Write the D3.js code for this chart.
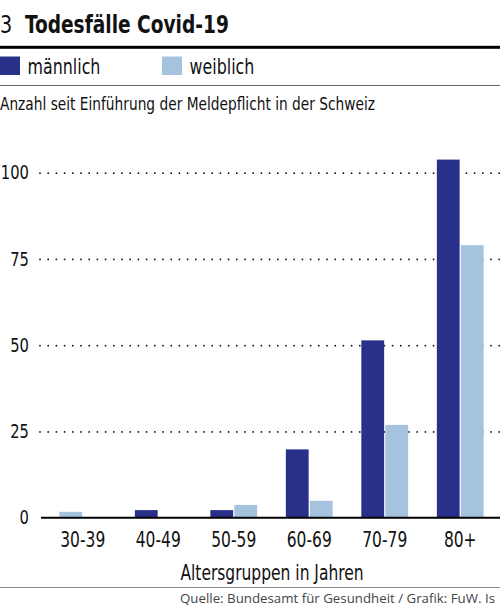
<!DOCTYPE html>
<html>
<head>
<meta charset="utf-8">
<script src="https://cdn.jsdelivr.net/npm/d3@7"></script>
<style>
  body { margin: 0; background: #fff; }
  svg { display: block; }
  text { font-family: 'Liberation Sans Narrow', 'DejaVu Sans Condensed', sans-serif; fill: #111; }
  .src { font-family: 'Open Sans', 'Noto Sans', sans-serif; fill: #444; }
</style>
</head>
<body>
<svg width="500" height="605"></svg>
<script>
// data
var ages = ['30-39', '40-49', '50-59', '60-69', '70-79', '80+'];
var male = [0, 2.2, 2.2, 19.8, 51.4, 103.8];
var female = [1.7, 0, 3.7, 4.9, 26.9, 79];
var yTicks = [0, 25, 50, 75, 100];

var colors = { m: '#283089', f: '#a5c2df' };

var svg = d3.select('svg');

// squeeze a text to look like the condensed face of the original
function condense(sel, k) {
   sel.each(function() {
      var w = this.getComputedTextLength();
      d3.select(this).attr('textLength', w * k).attr('lengthAdjust', 'spacingAndGlyphs');
   });
}

// header
svg.append('text').attr('x', 0).attr('y', 33).style('font-size', '25px').style('font-weight', 300)
   .text('3').call(condense, 0.85);
svg.append('text').attr('x', 25).attr('y', 33).style('font-size', '25.5px').style('font-weight', 'bold')
   .text('Todesfälle Covid-19').call(condense, 0.81);

svg.append('rect').attr('x', 0).attr('y', 45.8).attr('width', 500).attr('height', 3).attr('fill', '#000');

// legend
var legend = [{ key: 'm', label: 'männlich', x: 0 }, { key: 'f', label: 'weiblich', x: 162 }];
legend.forEach(function(d) {
   svg.append('rect').attr('x', d.x).attr('y', 56.5).attr('width', 20).attr('height', 18.5).attr('fill', colors[d.key]);
   svg.append('text').attr('x', d.x + 27.5).attr('y', 74).style('font-size', '21px').text(d.label)
      .call(condense, 0.84);
});

svg.append('line').attr('x1', 0).attr('x2', 500).attr('y1', 85.5).attr('y2', 85.5)
   .attr('stroke', '#666').attr('stroke-width', 1);

svg.append('text').attr('x', 0).attr('y', 110).style('font-size', '18px')
   .text('Anzahl  seit Einführung der Meldepflicht in der Schweiz')
   .attr('textLength', 375).attr('lengthAdjust', 'spacingAndGlyphs');

// scales
var y = d3.scaleLinear().domain([0, 100]).range([517.7, 172.7]);

var x0 = d3.scaleBand().domain(ages).range([42, 501])
   .paddingInner(0.38).paddingOuter(0.23);

var x1 = d3.scaleBand().domain([0, 1]).range([0, x0.bandwidth()]).paddingInner(0.05);

// y axis with dotted grid
var yAxis = svg.append('g')
   .attr('transform', 'translate(40,0)')
   .call(d3.axisLeft(y).tickValues(yTicks).tickSize(-460).tickPadding(11));
yAxis.select('.domain').remove();
yAxis.selectAll('.tick text').style('font-size', '19.5px').attr('fill', '#111').call(condense, 0.84);
yAxis.selectAll('.tick line')
   .attr('stroke', '#111')
   .attr('stroke-width', 1.8)
   .attr('stroke-linecap', 'round')
   .attr('stroke-dasharray', '0 8.2')
   .filter(function(d) { return d === 0; }).remove();

// bars: non-zero bars are packed into the first slots of each group
var groups = svg.append('g').selectAll('g')
   .data(ages.map(function(a, i) {
      var vals = [{ key: 'm', v: male[i] }, { key: 'f', v: female[i] }]
         .filter(function(d) { return d.v > 0; });
      return { age: a, vals: vals };
   }))
   .enter()
   .append('g')
   .attr('transform', function(d) { return 'translate(' + x0(d.age) + ',0)'; });

groups.selectAll('rect')
   .data(function(d) { return d.vals; })
   .enter()
   .append('rect')
   .attr('x', function(d, i) { return x1(i); })
   .attr('width', x1.bandwidth())
   .attr('y', function(d) { return y(d.v); })
   .attr('height', function(d) { return y(0) - y(d.v); })
   .attr('fill', function(d) { return colors[d.key]; });

// baseline and category labels
var xAxis = svg.append('g')
   .attr('transform', 'translate(0,' + y(0) + ')')
   .call(d3.axisBottom(x0).tickSize(0).tickPadding(14.8));
xAxis.select('.domain').remove();
xAxis.selectAll('.tick text').style('font-size', '20.5px').attr('fill', '#111').call(condense, 0.84);

svg.append('line').attr('x1', 41).attr('x2', 500).attr('y1', y(0)).attr('y2', y(0))
   .attr('stroke', '#000').attr('stroke-width', 2);

svg.append('text').attr('x', 272).attr('y', 580).attr('text-anchor', 'middle')
   .style('font-size', '20.5px').text('Altersgruppen in Jahren').call(condense, 0.84);

svg.append('line').attr('x1', 0).attr('x2', 500).attr('y1', 587.5).attr('y2', 587.5)
   .attr('stroke', '#888').attr('stroke-width', 1);

svg.append('text').attr('class', 'src').attr('x', 180).attr('y', 602.5)
   .style('font-size', '13px').text('Quelle: Bundesamt für Gesundheit / Grafik: FuW. Is')
   .attr('textLength', 315).attr('lengthAdjust', 'spacingAndGlyphs');
</script>
</body>
</html>
